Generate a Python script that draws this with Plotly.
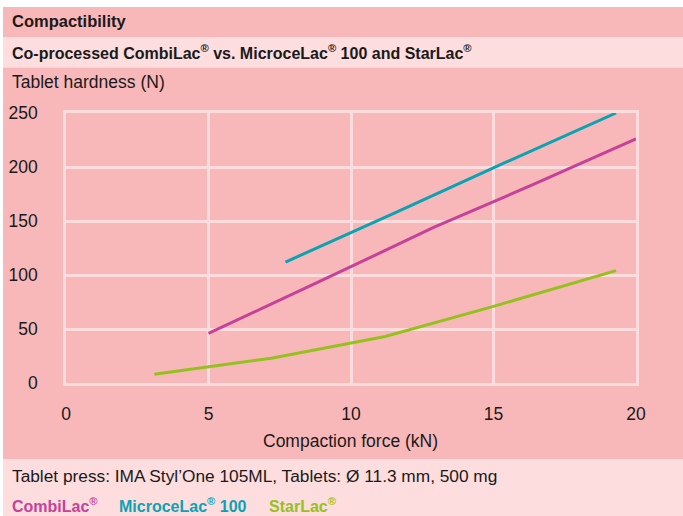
import plotly.graph_objects as go

# ---- data ----
combilac_x = [5.0, 8.9, 12.9, 16.5, 20.0]
combilac_y = [46, 94, 144, 185, 226]
microcelac_x = [7.7, 11.5, 15.4, 19.3]
microcelac_y = [112, 157, 204, 250]
starlac_x = [3.1, 7.2, 11.2, 15.0, 19.3]
starlac_y = [8, 23, 43, 71, 104]

x_ticks = [0, 5, 10, 15, 20]
y_ticks = [0, 50, 100, 150, 200, 250]

title_main = "Compactibility"
title_sub = "Co-processed CombiLac<sup>®</sup> vs. MicroceLac<sup>®</sup> 100 and StarLac<sup>®</sup>"
y_title = "Tablet hardness (N)"
x_title = "Compaction force (kN)"
footer = "Tablet press: IMA Styl’One 105ML, Tablets: Ø 11.3 mm, 500 mg"
series_names = ["CombiLac<sup>®</sup>", "MicroceLac<sup>®</sup> 100", "StarLac<sup>®</sup>"]

# ---- style ----
W, H = 683, 516
L, R, T, B = 66, 636, 113, 383
DARK = "#F8B8B9"
LIGHT = "#FDDDDE"
GRID = "#FCDCDD"
C_COMBI = "#C6419A"
C_MICRO = "#0AA3B4"
C_STAR = "#95C11F"
TXT = "#1A1A1A"
FONT = "Liberation Sans, Arial, sans-serif"


def px(x):
    return (x - L) / (R - L)


def py(y):
    return (B - y) / (B - T)


fig = go.Figure()
for xs, ys, c in [(combilac_x, combilac_y, C_COMBI),
                  (microcelac_x, microcelac_y, C_MICRO),
                  (starlac_x, starlac_y, C_STAR)]:
    fig.add_trace(go.Scatter(x=xs, y=ys, mode="lines",
                             line=dict(color=c, width=3), showlegend=False,
                             hoverinfo="skip"))

shapes = []
for y0, y1, col in [(7, 37, DARK), (37, 67.5, LIGHT), (67.5, 459.5, DARK), (459.5, 516, LIGHT)]:
    shapes.append(dict(type="rect", xref="paper", yref="paper", layer="below",
                       x0=px(3), x1=px(683), y0=py(y1), y1=py(y0),
                       fillcolor=col, line=dict(width=0)))

annotations = []


def ann(text, x, y, size, color=TXT, bold=False, xanchor="left"):
    t = f"<b>{text}</b>" if bold else text
    annotations.append(dict(text=t, x=px(x), y=py(y), xref="paper", yref="paper",
                            xanchor=xanchor, yanchor="middle", showarrow=False,
                            font=dict(family=FONT, size=size, color=color)))


ann(title_main, 10, 21, 16.5, bold=True)
ann(title_sub, 10, 52, 16, bold=True)
ann(y_title, 10, 82, 17.5)
ann(x_title, 350, 441, 17.5, xanchor="center")
ann(footer, 10, 476, 17.3)
ann(series_names[0], 10, 505, 16, color=C_COMBI, bold=True)
ann(series_names[1], 117, 505, 16, color=C_MICRO, bold=True)
ann(series_names[2], 267, 505, 16, color=C_STAR, bold=True)

axis_common = dict(showgrid=True, gridcolor=GRID, gridwidth=2.5, zeroline=False,
                   showline=True, linecolor=GRID, linewidth=2.5, mirror=True,
                   automargin=False, fixedrange=True,
                   ticks="", tickfont=dict(family=FONT, size=17.5, color=TXT))

fig.update_layout(
    width=W, height=H, autosize=False,
    margin=dict(l=L, r=W - R, t=T, b=H - B, pad=0, autoexpand=False),
    paper_bgcolor="white", plot_bgcolor="rgba(0,0,0,0)",
    shapes=shapes, annotations=annotations,
    xaxis=dict(range=[0, 20], tickvals=x_ticks, ticklabelstandoff=13, **axis_common),
    yaxis=dict(range=[0, 250], tickvals=y_ticks, ticklabelstandoff=22, **axis_common),
)

fig.write_html("out.html", config={"displayModeBar": False},
               post_script="document.body.style.margin='0';document.body.style.padding='0';")
